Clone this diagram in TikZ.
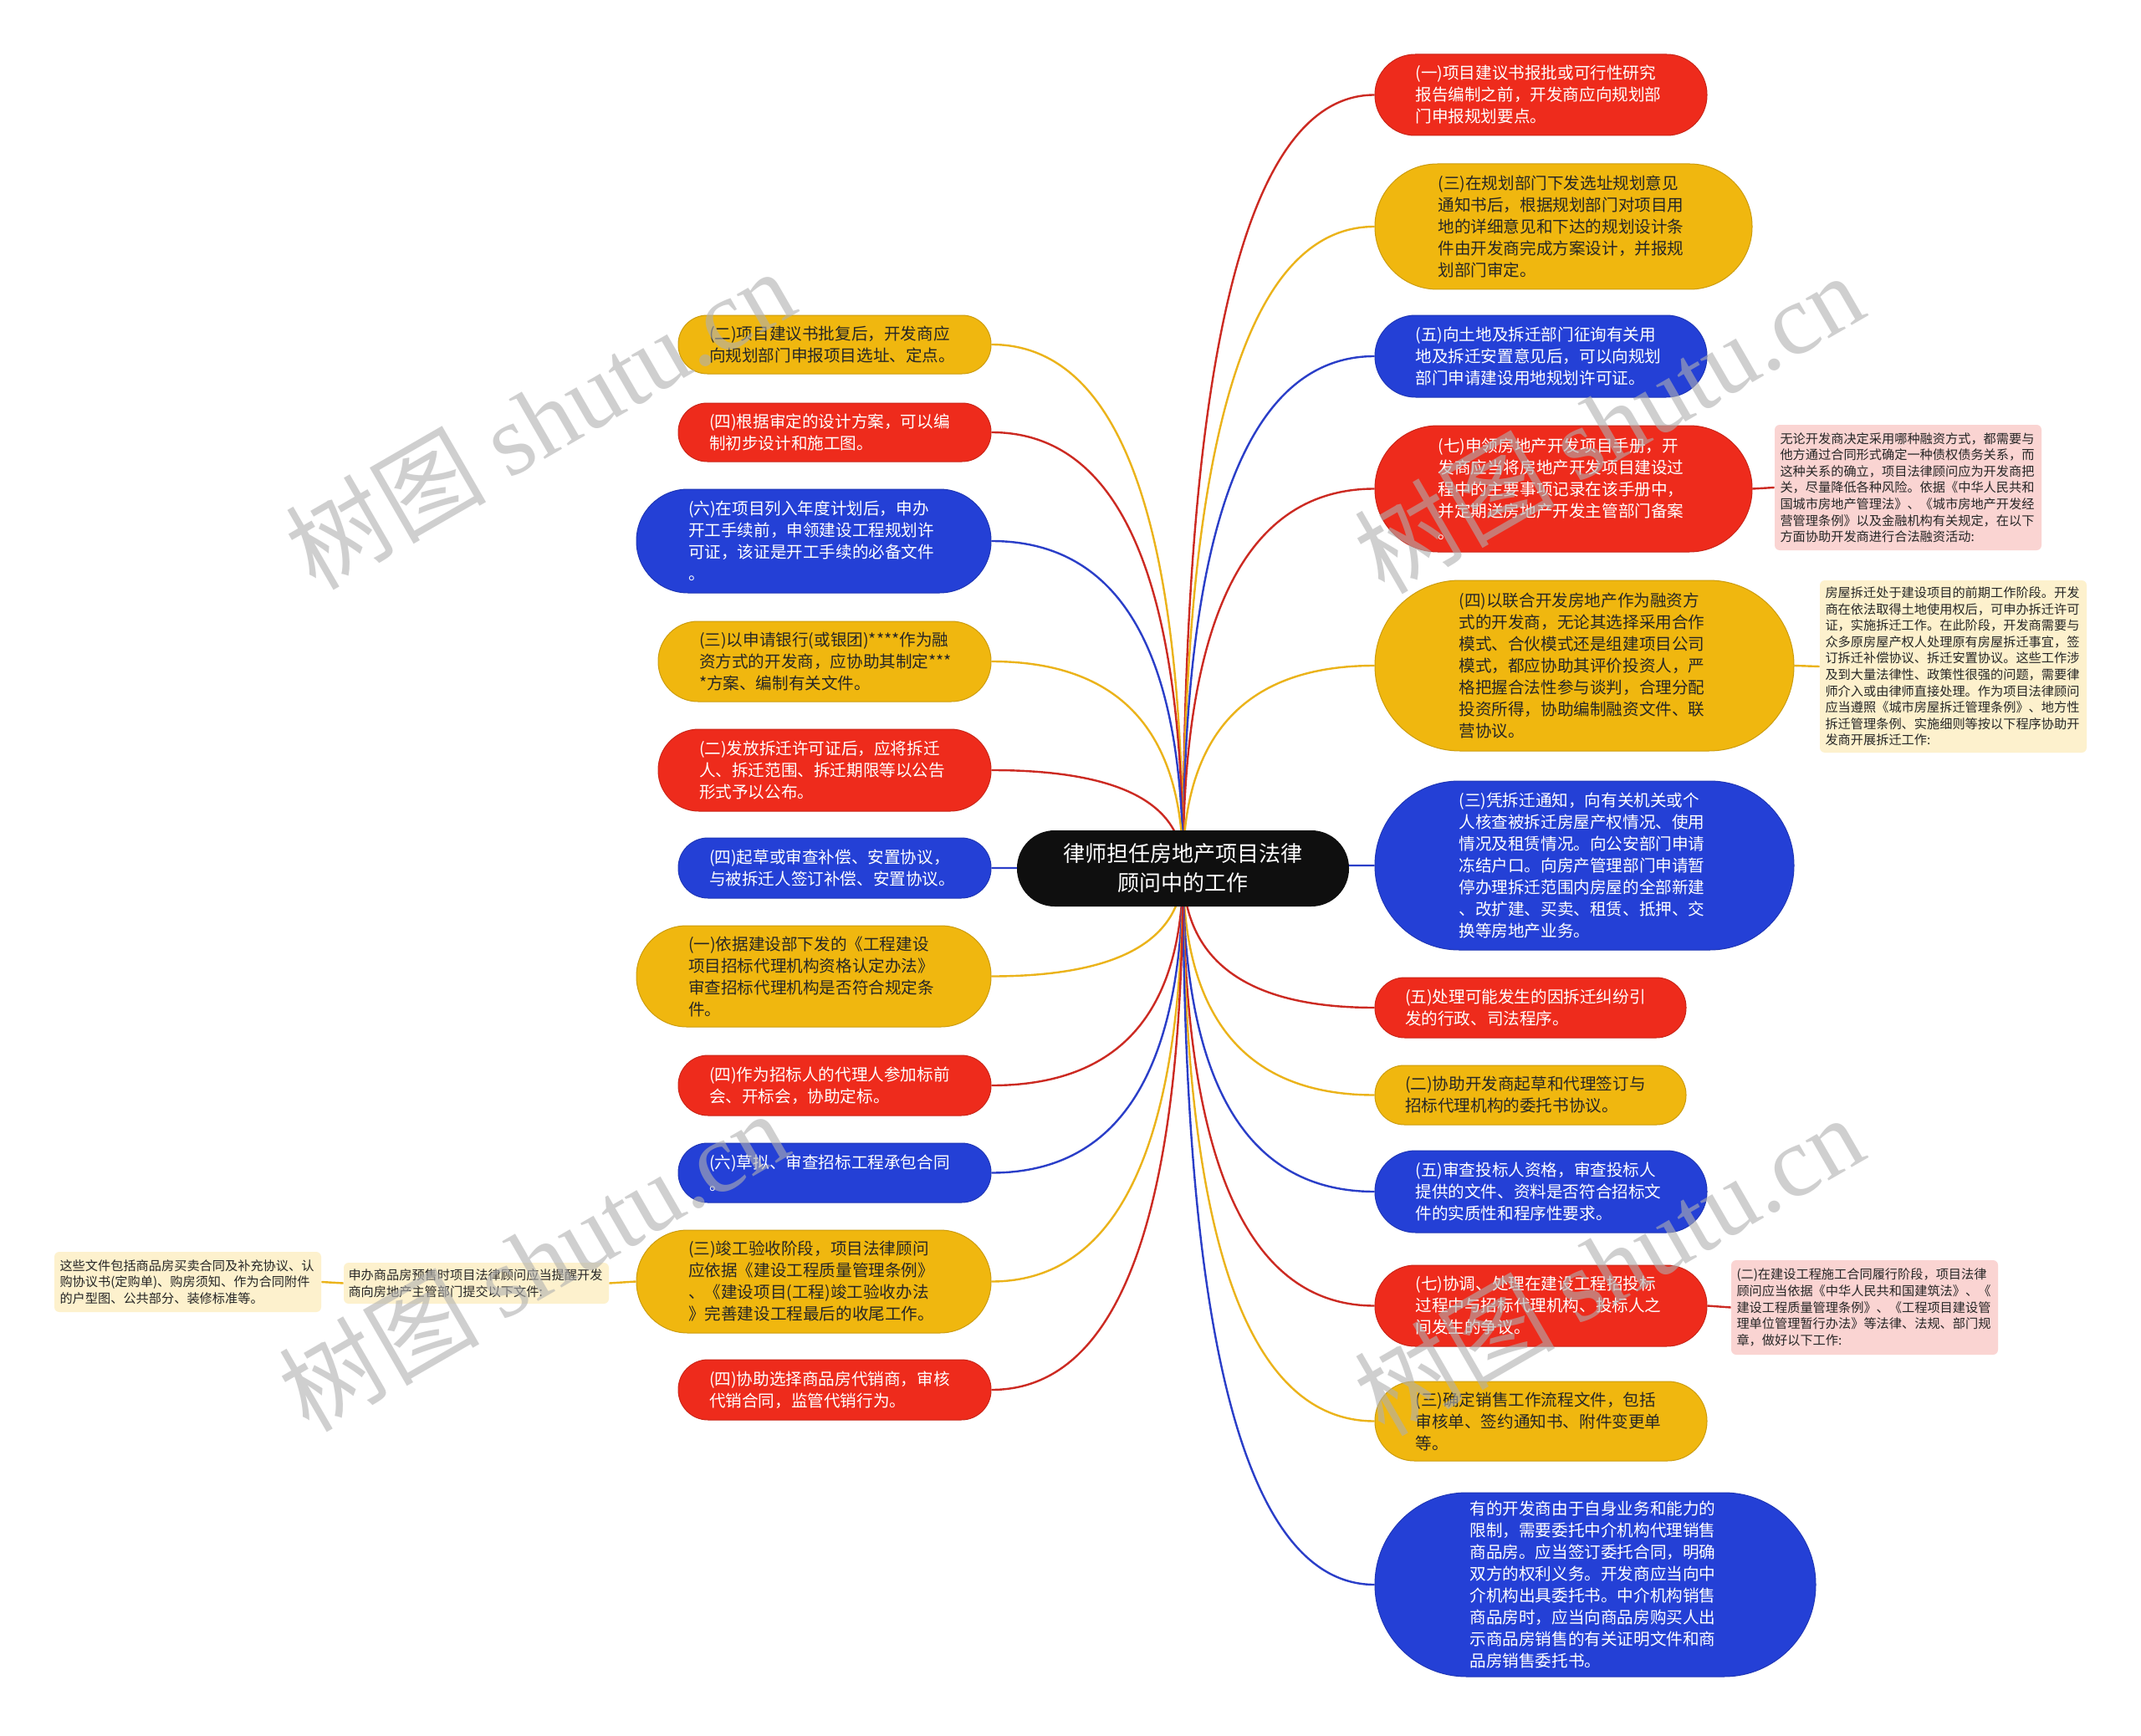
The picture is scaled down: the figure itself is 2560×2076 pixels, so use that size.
\documentclass[tikz,border=0pt]{standalone}
\usepackage{fontspec}
\setmainfont{Noto Sans CJK SC}
\newfontfamily\wmlatin{Liberation Serif}
\usetikzlibrary{calc,backgrounds}
\definecolor{cred}{HTML}{EE2B1C}
\definecolor{cyel}{HTML}{F0B70F}
\definecolor{cblue}{HTML}{2440D6}
\definecolor{cpink}{HTML}{FAD4D2}
\definecolor{ccream}{HTML}{FDF1CD}
\definecolor{lred}{HTML}{CC2A22}
\definecolor{lyel}{HTML}{EBB31A}
\definecolor{lblue}{HTML}{2A3EC8}
\definecolor{tdark}{HTML}{262626}
\definecolor{wmgray}{HTML}{B0B0B0}
\newcommand\mmconn[2]{\draw[#1] (c.center) .. controls ($(c.center)!0.6667!(c.center |- #2)$) and ($(#2)!0.6667!(c.center |- #2)$) .. (#2);}
\begin{document}
\begin{tikzpicture}[x=0.5pt,y=-0.5pt,
  base/.style={inner sep=0pt, align=left, font=\fontsize{9.8pt}{13pt}\selectfont, line width=0.5pt, text width=150pt},
  sz/.style 2 args={minimum width=#1*0.5pt, minimum height=#2*0.5pt, rounded corners=#2*0.25pt-0.2pt},
  nsz/.style 2 args={minimum width=#1*0.5pt, minimum height=#2*0.5pt},
  redbox/.style={base, fill=cred, draw=cred!85!black, text=white},
  yelbox/.style={base, fill=cyel, draw=cyel!85!black, text=tdark},
  bluebox/.style={base, fill=cblue, draw=cblue!85!black, text=white},
  notebase/.style={inner sep=0pt, align=left, font=\fontsize{7.6pt}{9.8pt}\selectfont, text=tdark, rounded corners=3pt, text width=153pt},
  pinknote/.style={notebase, fill=cpink},
  creamnote/.style={notebase, fill=ccream},
  rootbox/.style={inner sep=0pt, align=center, fill=black!94, text=white, font=\fontsize{13pt}{17.5pt}\selectfont},
  lr/.style={draw=lred, line width=1.2pt},
  ly/.style={draw=lyel, line width=1.2pt},
  lb/.style={draw=lblue, line width=1.2pt},
  wm/.style={text=wmgray, opacity=0.6, font=\fontsize{60pt}{60pt}\selectfont, rotate=30}
]
\useasboundingbox (0,0) rectangle (2560,2076);
\begin{scope}[on background layer]
\fill[white] (0,0) rectangle (2560,2076);
\end{scope}

% root
\node[rootbox, sz={397}{91}] (c) at (1414.5,1038.5) {律师担任房地产项目法律\\顾问中的工作};

% right side
\node[redbox, sz={397}{97}] (r1) at (1842.5,113.5) {(一)项目建议书报批或可行性研究\\报告编制之前，开发商应向规划部\\门申报规划要点。};
\node[yelbox, sz={451}{150}] (r2) at (1869.5,271) {(三)在规划部门下发选址规划意见\\通知书后，根据规划部门对项目用\\地的详细意见和下达的规划设计条\\件由开发商完成方案设计，并报规\\划部门审定。};
\node[bluebox, sz={397}{98}] (r3) at (1842.5,426) {(五)向土地及拆迁部门征询有关用\\地及拆迁安置意见后，可以向规划\\部门申请建设用地规划许可证。};
\node[redbox, sz={451}{151}] (r4) at (1869.5,584.5) {(七)申领房地产开发项目手册，开\\发商应当将房地产开发项目建设过\\程中的主要事项记录在该手册中，\\并定期送房地产开发主管部门备案\\。};
\node[yelbox, sz={501}{204}] (r5) at (1894.5,796) {(四)以联合开发房地产作为融资方\\式的开发商，无论其选择采用合作\\模式、合伙模式还是组建项目公司\\模式，都应协助其评价投资人，严\\格把握合法性参与谈判，合理分配\\投资所得，协助编制融资文件、联\\营协议。};
\node[bluebox, sz={501}{202}] (r6) at (1894.5,1035) {(三)凭拆迁通知，向有关机关或个\\人核查被拆迁房屋产权情况、使用\\情况及租赁情况。向公安部门申请\\冻结户口。向房产管理部门申请暂\\停办理拆迁范围内房屋的全部新建\\、改扩建、买卖、租赁、抵押、交\\换等房地产业务。};
\node[redbox, sz={372}{72}] (r7) at (1830,1205) {(五)处理可能发生的因拆迁纠纷引\\发的行政、司法程序。};
\node[yelbox, sz={372}{71}] (r8) at (1830,1309.5) {(二)协助开发商起草和代理签订与\\招标代理机构的委托书协议。};
\node[bluebox, sz={397}{98}] (r9) at (1842.5,1425) {(五)审查投标人资格，审查投标人\\提供的文件、资料是否符合招标文\\件的实质性和程序性要求。};
\node[redbox, sz={397}{97}] (r10) at (1842.5,1561.5) {(七)协调、处理在建设工程招投标\\过程中与招标代理机构、投标人之\\间发生的争议。};
\node[yelbox, sz={397}{95}] (r11) at (1842.5,1699.5) {(三)确定销售工作流程文件，包括\\审核单、签约通知书、附件变更单\\等。};
\node[bluebox, sz={527}{220}] (r12) at (1907.5,1895) {有的开发商由于自身业务和能力的\\限制，需要委托中介机构代理销售\\商品房。应当签订委托合同，明确\\双方的权利义务。开发商应当向中\\介机构出具委托书。中介机构销售\\商品房时，应当向商品房购买人出\\示商品房销售的有关证明文件和商\\品房销售委托书。};

% right notes
\node[pinknote, nsz={319}{150}] (n1) at (2281.5,583) {无论开发商决定采用哪种融资方式，都需要与\\他方通过合同形式确定一种债权债务关系，而\\这种关系的确立，项目法律顾问应为开发商把\\关，尽量降低各种风险。依据《中华人民共和\\国城市房地产管理法》、《城市房地产开发经\\营管理条例》以及金融机构有关规定，在以下\\方面协助开发商进行合法融资活动:};
\node[creamnote, nsz={319}{206}] (n2) at (2335.5,797) {房屋拆迁处于建设项目的前期工作阶段。开发\\商在依法取得土地使用权后，可申办拆迁许可\\证，实施拆迁工作。在此阶段，开发商需要与\\众多原房屋产权人处理原有房屋拆迁事宜，签\\订拆迁补偿协议、拆迁安置协议。这些工作涉\\及到大量法律性、政策性很强的问题，需要律\\师介入或由律师直接处理。作为项目法律顾问\\应当遵照《城市房屋拆迁管理条例》、地方性\\拆迁管理条例、实施细则等按以下程序协助开\\发商开展拆迁工作:};
\node[pinknote, nsz={319}{113}] (n3) at (2229.5,1563.5) {(二)在建设工程施工合同履行阶段，项目法律\\顾问应当依据《中华人民共和国建筑法》、《\\建设工程质量管理条例》、《工程项目建设管\\理单位管理暂行办法》等法律、法规、部门规\\章，做好以下工作:};

% left side
\node[yelbox, sz={374}{70}] (l1) at (998,412) {(二)项目建议书批复后，开发商应\\向规划部门申报项目选址、定点。};
\node[redbox, sz={374}{70}] (l2) at (998,517) {(四)根据审定的设计方案，可以编\\制初步设计和施工图。};
\node[bluebox, sz={424}{124}] (l3) at (973,647) {(六)在项目列入年度计划后，申办\\开工手续前，申领建设工程规划许\\可证，该证是开工手续的必备文件\\。};
\node[yelbox, sz={398}{96}] (l4) at (986,791) {(三)以申请银行(或银团)****作为融\\资方式的开发商，应协助其制定***\\{*}方案、编制有关文件。};
\node[redbox, sz={398}{98}] (l5) at (986,921) {(二)发放拆迁许可证后，应将拆迁\\人、拆迁范围、拆迁期限等以公告\\形式予以公布。};
\node[bluebox, sz={374}{72}] (l6) at (998,1038) {(四)起草或审查补偿、安置协议，\\与被拆迁人签订补偿、安置协议。};
\node[yelbox, sz={424}{121}] (l7) at (973,1167.5) {(一)依据建设部下发的《工程建设\\项目招标代理机构资格认定办法》\\审查招标代理机构是否符合规定条\\件。};
\node[redbox, sz={374}{72}] (l8) at (998,1298) {(四)作为招标人的代理人参加标前\\会、开标会，协助定标。};
\node[bluebox, sz={374}{71}] (l9) at (998,1402.5) {(六)草拟、审查招标工程承包合同\\。};
\node[yelbox, sz={424}{123}] (l10) at (973,1532.5) {(三)竣工验收阶段，项目法律顾问\\应依据《建设工程质量管理条例》\\、《建设项目(工程)竣工验收办法\\》完善建设工程最后的收尾工作。};
\node[redbox, sz={374}{72}] (l11) at (998,1662) {(四)协助选择商品房代销商，审核\\代销合同，监管代销行为。};

% left notes
\node[creamnote, nsz={317}{49}] (fl2) at (569.5,1534.5) {申办商品房预售时项目法律顾问应当提醒开发\\商向房地产主管部门提交以下文件:};
\node[creamnote, nsz={319}{72}] (fl1) at (224.5,1533) {这些文件包括商品房买卖合同及补充协议、认\\购协议书(定购单)、购房须知、作为合同附件\\的户型图、公共部分、装修标准等。};

% connectors
\begin{scope}[on background layer]
\mmconn{lr}{r1.west}
\mmconn{ly}{r2.west}
\mmconn{lb}{r3.west}
\mmconn{lr}{r4.west}
\mmconn{ly}{r5.west}
\mmconn{lb}{r6.west}
\mmconn{lr}{r7.west}
\mmconn{ly}{r8.west}
\mmconn{lb}{r9.west}
\mmconn{lr}{r10.west}
\mmconn{ly}{r11.west}
\mmconn{lb}{r12.west}
\mmconn{ly}{l1.east}
\mmconn{lr}{l2.east}
\mmconn{lb}{l3.east}
\mmconn{ly}{l4.east}
\mmconn{lr}{l5.east}
\mmconn{lb}{l6.east}
\mmconn{ly}{l7.east}
\mmconn{lr}{l8.east}
\mmconn{lb}{l9.east}
\mmconn{ly}{l10.east}
\mmconn{lr}{l11.east}
\draw[lr] (r4.east) -- (n1.west);
\draw[ly] (r5.east) -- (n2.west);
\draw[lr] (r10.east) -- (n3.west);
\draw[ly] (l10.west) -- (fl2.east);
\draw[ly] (fl2.west) -- (fl1.east);
\end{scope}

% watermarks
\node[wm] (w1) at (645,500) {树图 {\wmlatin shutu.cn}};
\node[wm] (w2) at (1923,505) {树图 {\wmlatin shutu.cn}};
\node[wm] (w3) at (637,1507) {树图 {\wmlatin shutu.cn}};
\node[wm] (w4) at (1923,1512) {树图 {\wmlatin shutu.cn}};
\end{tikzpicture}
\end{document}
